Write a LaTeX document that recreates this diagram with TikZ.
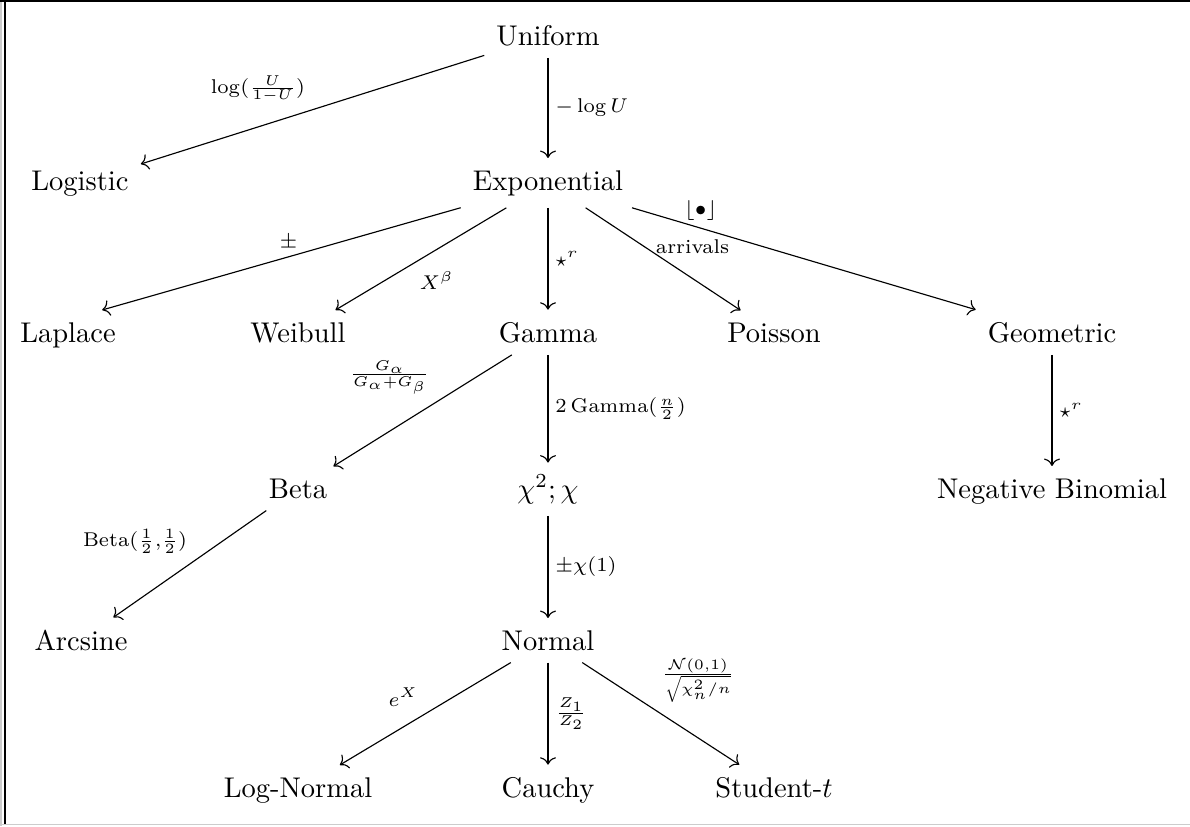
\documentclass[tikz,border=0pt]{standalone}
\usepackage{amsmath}
\usetikzlibrary{arrows.meta}
\begin{document}
\begin{tikzpicture}[x=0.3509pt,y=-0.3509pt,
  dist/.style={font=\normalsize, inner sep=4.1pt, anchor=base},
  lab/.style={font=\scriptsize, inner sep=2.4pt},
  arr/.style={-{Computer Modern Rightarrow[length=2.6pt, width=5.6pt]}, line width=0.4pt},
  frameblack/.style={line width=0.7pt, black},
  framegray/.style={line width=0.5pt, black!20}]
\useasboundingbox (0,0) rectangle (1190,826);
% frame of the screenshot
\draw[framegray] (0.8,0) -- (0.8,826);
\draw[framegray] (0,824.5) -- (1190,824.5);
\draw[frameblack] (0,1) -- (1190,1);
\draw[frameblack] (5,0) -- (5,824);
% nodes
\node[dist] (uni)  at (548,45)  {Uniform};
\node[dist] (logi) at (80,190)  {Logistic};
\node[dist] (expo) at (548,190) {Exponential};
\node[dist] (lap)  at (68,342)  {Laplace};
\node[dist] (wei)  at (298,342) {Weibull};
\node[dist] (gam)  at (548,342) {Gamma};
\node[dist] (poi)  at (774,342) {Poisson};
\node[dist] (geo)  at (1052,342) {Geometric};
\node[dist] (beta) at (298,498) {Beta};
\node[dist] (chi)  at (548,498) {$\chi^2;\chi$};
\node[dist] (nb)   at (1052,498) {Negative Binomial};
\node[dist] (arc)  at (81,650)  {Arcsine};
\node[dist] (nor)  at (548,650) {Normal};
\node[dist] (logn) at (298,797) {Log-Normal};
\node[dist] (cau)  at (548,797) {Cauchy};
\node[dist] (stu)  at (774,797) {Student-$t$};
% arrows
\draw[arr] (uni) -- node[lab, midway, above left] {$\log(\frac{U}{1-U})$} (logi);
\draw[arr] (uni) -- node[lab, midway, right] {$-\log U$} (expo);
\draw[arr] (expo) -- node[lab, pos=.48, above] {$\pm$} ([xshift=12pt]lap.north);
\draw[arr] (expo) -- node[lab, pos=.55, below right] {$X^\beta$} (wei);
\draw[arr] (expo) -- node[lab, midway, right] {$\star^r$} (gam);
\draw[arr] (expo) -- node[lab, pos=.45, anchor=south west, inner sep=0pt] {arrivals} (poi);
\draw[arr] (expo) -- node[lab, pos=.2, above] {$\lfloor\bullet\rfloor$} (geo);
\draw[arr] (gam) -- node[lab, pos=.42, above left] {$\frac{G_\alpha}{G_\alpha+G_\beta}$} (beta);
\draw[arr] (gam) -- node[lab, midway, right] {$2\,\mathrm{Gamma}(\frac{n}{2})$} (chi);
\draw[arr] (geo) -- node[lab, midway, right] {$\star^r$} (nb);
\draw[arr] (beta) -- node[lab, pos=.47, above left] {$\mathrm{Beta}(\frac12{,}\frac12)$} (arc);
\draw[arr] (chi) -- node[lab, midway, right] {$\pm\chi(1)$} (nor);
\draw[arr] (nor) -- node[lab, midway, above left] {$e^X$} (logn);
\draw[arr] (nor) -- node[lab, midway, right] {$\frac{Z_1}{Z_2}$} (cau);
\draw[arr] (nor) -- node[lab, pos=.46, above right] {$\frac{\mathcal{N}(0,1)}{\sqrt{\chi^2_n/n}}$} (stu);
\end{tikzpicture}
\end{document}
